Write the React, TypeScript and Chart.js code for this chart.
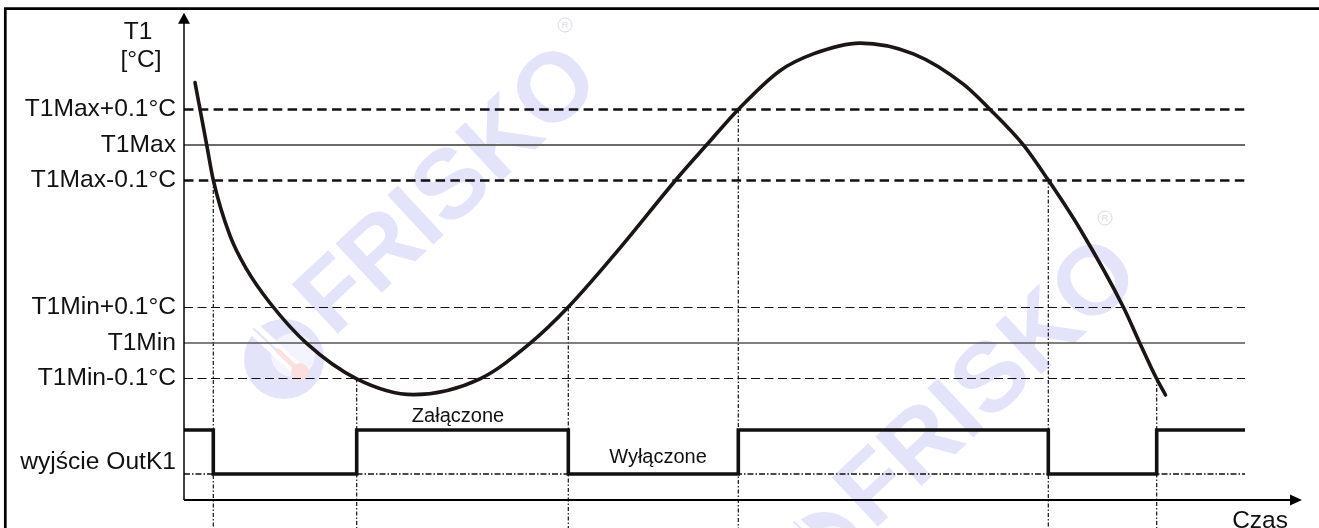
import React, { useEffect, useRef } from "react";
import { Chart, registerables } from "chart.js";

Chart.register(...registerables);
Chart.defaults.font.family = 'Arial, "Liberation Sans", sans-serif';

// ---- data (x: time units, y: signal units) ----
const LEVEL_NAMES = ["T1Max+0.1°C", "T1Max", "T1Max-0.1°C", "T1Min+0.1°C", "T1Min", "T1Min-0.1°C"];
const LEVEL_VALUES = [39.05, 35.5, 31.95, 19.25, 15.7, 12.15];
const OUTPUT_NAME = "wyjście OutK1";
const OUTPUT_NAME_VALUE = 3.8;
const OUTPUT_HIGH = 7.0;
const OUTPUT_LOW = 2.6;
const TIME_END = 106.1;

const CURVE_TIME = [1.1, 2.27, 2.93, 4.6, 6.27, 8.6, 12.27, 17.27, 22.93, 29.6, 34.6, 38.43, 42.93, 49.6, 52.27, 55.43, 59.6, 62.93, 67.6, 72.93, 77.93, 80.6, 83.93, 86.43, 89.6, 93.93, 95.6, 97.27, 98.15];
const CURVE_T1 = [41.75, 35.52, 31.99, 26.43, 23.06, 19.7, 15.66, 12.12, 10.54, 12.12, 15.66, 19.3, 24.41, 32.5, 35.52, 39.06, 42.93, 44.61, 45.69, 44.61, 41.58, 39.06, 35.52, 31.99, 27.1, 19.3, 15.66, 12.12, 10.5];

const SWITCH_TIMES = [0, 2.93, 17.27, 38.43, 55.43, 86.43, 97.27, 106.1];
const SWITCH_STATES = [1, 0, 1, 0, 1, 0, 1, 1];

const CROSSING_TIMES = [2.93, 17.27, 38.43, 55.43, 86.43, 97.27];
const CROSSING_LEVELS = [31.95, 12.15, 19.25, 39.05, 31.95, 12.15];

const STATE_ON_LABEL = "Załączone";
const STATE_OFF_LABEL = "Wyłączone";
const Y_TITLE = ["T1", "[°C]"];
const X_TITLE = "Czas";

const TICK_VALUES = [...LEVEL_VALUES, OUTPUT_NAME_VALUE];
const TICK_LABELS = [...LEVEL_NAMES, OUTPUT_NAME];

// ---- view ----
const X_MIN = 0;
const X_MAX = 113.5;
const Y_MIN = -2.8;
const Y_MAX = 50;
const Y_AXIS_TOP = 48.73;
const X_AXIS_END = 111.8;

const LEVEL_STYLES = [
  { color: "#111", width: 2.4, dash: [9.5, 5.3] },
  { color: "#6a6a6a", width: 1.8, dash: [] },
  { color: "#111", width: 2.4, dash: [9.5, 5.3] },
  { color: "#111", width: 1.2, dash: [9, 4.5] },
  { color: "#555", width: 1.6, dash: [] },
  { color: "#111", width: 1.2, dash: [9, 4.5] },
];

const WM = "#e3e3fa";

function drawWatermark(ctx: CanvasRenderingContext2D, cx: number, cy: number) {
  ctx.save();
  const lx = cx - 166;
  const ly = cy + 167;
  ctx.fillStyle = WM;
  ctx.beginPath();
  ctx.arc(lx, ly, 40, 0, Math.PI * 2);
  ctx.fill();
  ctx.fillStyle = "#f4f4fd";
  ctx.beginPath();
  ctx.arc(lx + 9, ly - 4, 22, 0, Math.PI * 2);
  ctx.fill();
  ctx.lineCap = "round";
  ctx.strokeStyle = "#ffffff";
  ctx.lineWidth = 13;
  ctx.beginPath();
  ctx.moveTo(lx - 30, ly - 30);
  ctx.lineTo(lx + 14, ly + 11);
  ctx.stroke();
  ctx.strokeStyle = WM;
  ctx.lineWidth = 2;
  ctx.beginPath();
  ctx.moveTo(lx - 30, ly - 30);
  ctx.lineTo(lx + 4, ly + 2);
  ctx.stroke();
  ctx.strokeStyle = "#fbe0e0";
  ctx.lineWidth = 5;
  ctx.beginPath();
  ctx.moveTo(lx - 6, ly - 8);
  ctx.lineTo(lx + 14, ly + 11);
  ctx.stroke();
  ctx.fillStyle = "#fbdede";
  ctx.beginPath();
  ctx.arc(lx + 16, ly + 13, 9, 0, Math.PI * 2);
  ctx.fill();
  ctx.translate(cx, cy);
  ctx.rotate((-43 * Math.PI) / 180);
  ctx.fillStyle = WM;
  ctx.font = 'bold 98px Arial, "Liberation Sans", sans-serif';
  ctx.textAlign = "center";
  ctx.textBaseline = "middle";
  ctx.fillText("FRISKO", 0, 0);
  ctx.restore();
  ctx.save();
  ctx.strokeStyle = "#d8d8e8";
  ctx.lineWidth = 1;
  ctx.beginPath();
  ctx.arc(cx + 115, cy - 167, 7, 0, Math.PI * 2);
  ctx.stroke();
  ctx.fillStyle = "#d8d8e8";
  ctx.font = '9px Arial, "Liberation Sans", sans-serif';
  ctx.textAlign = "center";
  ctx.textBaseline = "middle";
  ctx.fillText("R", cx + 115, cy - 166.5);
  ctx.restore();
}

const decorPlugin = {
  id: "decor",
  beforeDatasetsDraw(chart: any) {
    const ctx: CanvasRenderingContext2D = chart.ctx;
    drawWatermark(ctx, 450, 192);
    drawWatermark(ctx, 990, 385);
  },
  afterDatasetsDraw(chart: any) {
    const ctx: CanvasRenderingContext2D = chart.ctx;
    const { x, y } = chart.scales;
    const x0 = x.getPixelForValue(0);
    const y0 = y.getPixelForValue(0);
    const yTop = y.getPixelForValue(Y_AXIS_TOP);
    const xEnd = x.getPixelForValue(X_AXIS_END);
    ctx.save();
    ctx.strokeStyle = "#000";
    ctx.fillStyle = "#000";
    ctx.lineWidth = 1.5;
    ctx.beginPath();
    ctx.moveTo(x0, y0);
    ctx.lineTo(x0, yTop + 8);
    ctx.stroke();
    ctx.beginPath();
    ctx.moveTo(x0, yTop);
    ctx.lineTo(x0 - 6, yTop + 11);
    ctx.lineTo(x0 + 6, yTop + 11);
    ctx.closePath();
    ctx.fill();
    ctx.lineWidth = 2;
    ctx.beginPath();
    ctx.moveTo(x0, y0);
    ctx.lineTo(xEnd - 8, y0);
    ctx.stroke();
    ctx.beginPath();
    ctx.moveTo(xEnd, y0);
    ctx.lineTo(xEnd - 12, y0 - 5.5);
    ctx.lineTo(xEnd - 12, y0 + 5.5);
    ctx.closePath();
    ctx.fill();
    ctx.lineWidth = 2.7;
    ctx.beginPath();
    ctx.moveTo(5.3, chart.height);
    ctx.lineTo(5.3, 8.6);
    ctx.lineTo(chart.width, 8.6);
    ctx.stroke();
    ctx.fillStyle = "#111";
    ctx.textBaseline = "alphabetic";
    ctx.font = '24.5px Arial, "Liberation Sans", sans-serif';
    ctx.textAlign = "center";
    ctx.fillText(Y_TITLE[0], x0 - 46, 38.5);
    ctx.fillText(Y_TITLE[1], x0 - 43, 66.5);
    ctx.textAlign = "right";
    ctx.fillText(X_TITLE, x.getPixelForValue(110.4), chart.height);
    ctx.font = '20px Arial, "Liberation Sans", sans-serif';
    ctx.textAlign = "center";
    ctx.fillText(STATE_ON_LABEL, x.getPixelForValue(27.4), y.getPixelForValue(7.83));
    ctx.fillText(STATE_OFF_LABEL, x.getPixelForValue(47.4), y.getPixelForValue(3.73));
    ctx.restore();
  },
};

export default function App() {
  const ref = useRef<HTMLCanvasElement | null>(null);

  useEffect(() => {
    document.body.style.margin = "0";
    const canvas = ref.current;
    if (!canvas) return;

    const datasets: any[] = [];

    datasets.push({
      label: "T1",
      data: CURVE_TIME.map((t, i) => ({ x: t, y: CURVE_T1[i] })),
      borderColor: "#1b1515",
      borderWidth: 3.6,
      cubicInterpolationMode: "monotone",
      pointRadius: 0,
      showLine: true,
      borderCapStyle: "round",
    });

    datasets.push({
      label: "OutK1",
      data: SWITCH_TIMES.map((t, i) => ({ x: t, y: SWITCH_STATES[i] ? OUTPUT_HIGH : OUTPUT_LOW })),
      borderColor: "#111",
      borderWidth: 3.6,
      stepped: "before",
      pointRadius: 0,
      showLine: true,
      borderJoinStyle: "miter",
    });

    LEVEL_VALUES.forEach((v, i) => {
      const s = LEVEL_STYLES[i];
      datasets.push({
        label: LEVEL_NAMES[i],
        data: [
          { x: 0, y: v },
          { x: TIME_END, y: v },
        ],
        borderColor: s.color,
        borderWidth: s.width,
        borderDash: s.dash,
        pointRadius: 0,
        showLine: true,
      });
    });

    datasets.push({
      label: "low",
      data: [
        { x: 0, y: OUTPUT_LOW },
        { x: TIME_END, y: OUTPUT_LOW },
      ],
      borderColor: "#111",
      borderWidth: 1.3,
      borderDash: [6, 2, 1.5, 2],
      pointRadius: 0,
      showLine: true,
    });

    CROSSING_TIMES.forEach((t, i) => {
      datasets.push({
        label: "cross" + i,
        data: [
          { x: t, y: CROSSING_LEVELS[i] },
          { x: t, y: Y_MIN },
        ],
        borderColor: "#111",
        borderWidth: 1.2,
        borderDash: [4, 2, 1.5, 2],
        pointRadius: 0,
        showLine: true,
      });
    });

    const chart = new Chart(canvas, {
      type: "scatter",
      data: { datasets },
      options: {
        animation: false,
        responsive: false,
        devicePixelRatio: 1,
        layout: { padding: 0 },
        plugins: {
          legend: { display: false },
          tooltip: { enabled: false },
        },
        scales: {
          x: { type: "linear", min: X_MIN, max: X_MAX, display: false },
          y: {
            type: "linear",
            min: Y_MIN,
            max: Y_MAX,
            position: "left",
            grid: { display: false, drawTicks: false },
            border: { display: false },
            ticks: {
              autoSkip: false,
              padding: 8,
              color: "#111",
              font: { size: 24.6 },
              callback: (_v: any, i: number) => TICK_LABELS[i],
            },
            afterBuildTicks: (s: any) => {
              s.ticks = TICK_VALUES.map((v) => ({ value: v }));
            },
            afterFit: (s: any) => {
              s.width = 184;
              s.paddingTop = 0;
              s.paddingBottom = 0;
            },
          },
        },
      } as any,
      plugins: [decorPlugin],
    });

    return () => chart.destroy();
  }, []);

  return (
    <div style={{ position: "fixed", left: 0, top: 0, width: 1319, height: 528, background: "#fff" }}>
      <canvas ref={ref} width={1319} height={528} style={{ display: "block" }} />
    </div>
  );
}
